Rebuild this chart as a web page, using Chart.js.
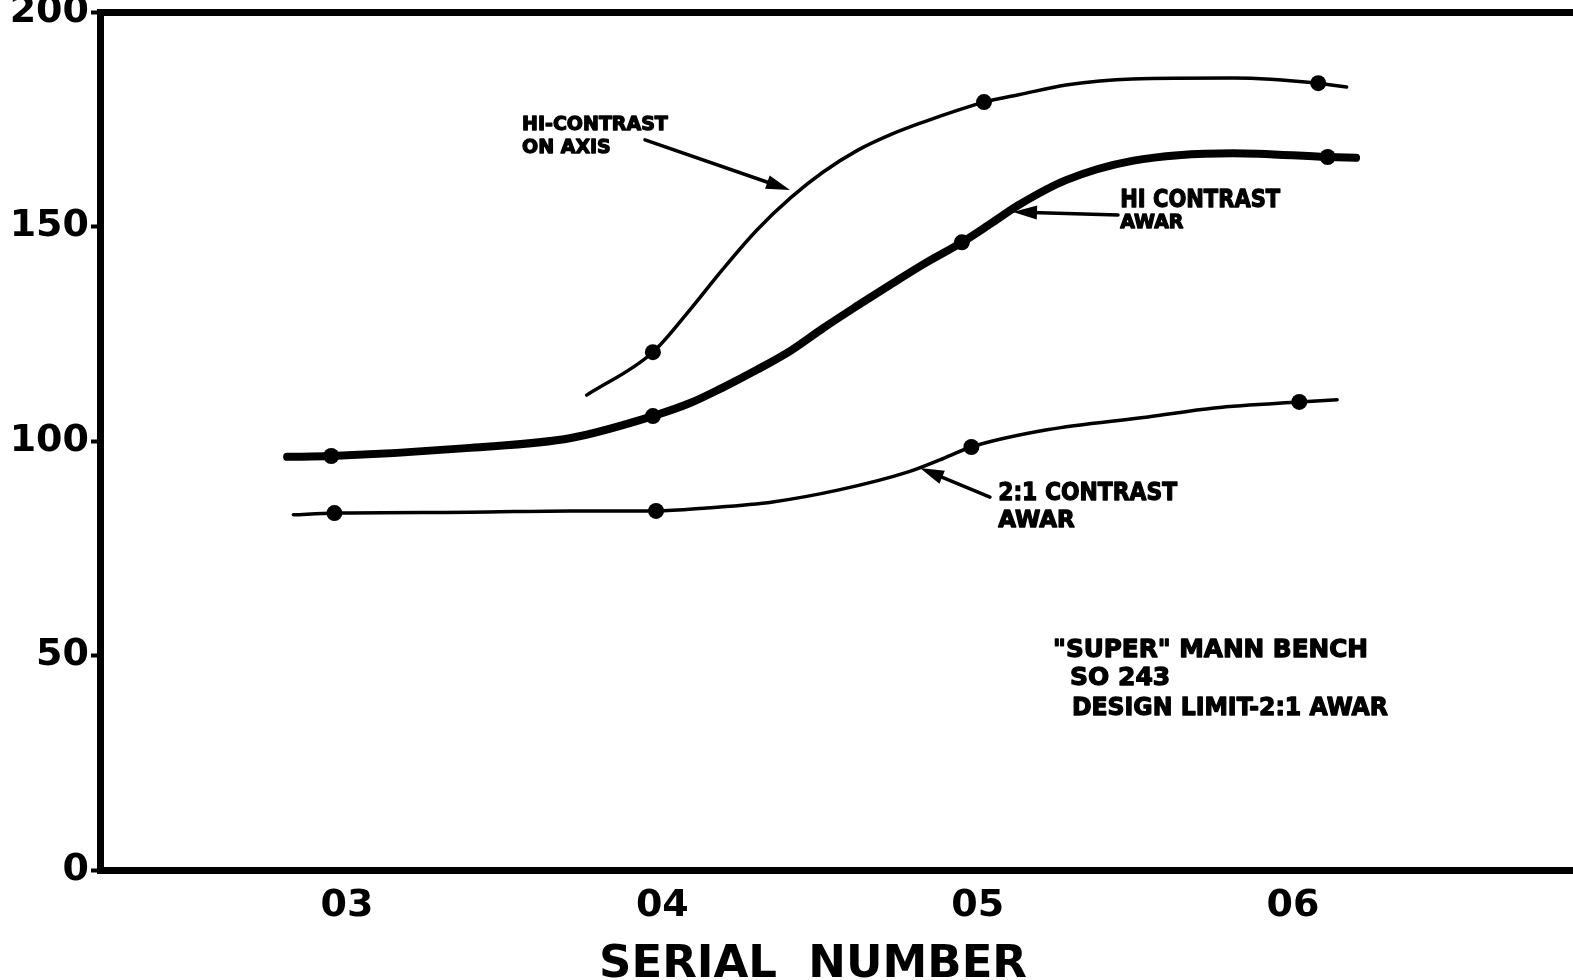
<!DOCTYPE html>
<html>
<head>
<meta charset="utf-8">
<title>Serial number chart</title>
<script src="https://cdn.jsdelivr.net/npm/chart.js@4.4.1/dist/chart.umd.min.js"></script>
<style>
body { margin: 0; background: #fff; }
#wrap { width: 1573px; height: 980px; }
</style>
</head>
<body>
<div id="wrap"><canvas id="serialChart"></canvas></div>
<script>
// serial number axis
const xTickValues = [3, 4, 5, 6];
const xTickLabels = ['03', '04', '05', '06'];

// HI-CONTRAST ON AXIS
const onAxisX = [3.76, 3.97, 4.09, 4.19, 4.30, 4.41, 4.51, 4.62, 4.72, 4.83, 4.94, 5.02, 5.13, 5.28, 5.49, 5.81, 6.08, 6.17];
const onAxisY = [110.7, 120.7, 130.8, 139.9, 149.2, 156.9, 162.7, 167.8, 171.3, 174.4, 177.2, 179.0, 180.7, 183.0, 184.4, 184.6, 183.4, 182.5];
const onAxisDotX = [3.97, 5.02, 6.08];
const onAxisDotY = [120.7, 179.0, 183.4];

// HI CONTRAST AWAR (heavy line)
const hiAwarX = [2.81, 2.95, 3.39, 3.71, 3.97, 4.09, 4.19, 4.30, 4.41, 4.51, 4.62, 4.72, 4.83, 4.95, 5.04, 5.13, 5.28, 5.49, 5.81, 6.11, 6.20];
const hiAwarY = [96.3, 96.5, 98.4, 100.7, 105.8, 108.9, 112.4, 116.6, 121.2, 126.3, 131.6, 136.3, 141.3, 146.3, 150.6, 155.0, 160.8, 165.3, 167.1, 166.2, 166.0];
const hiAwarDotX = [2.95, 3.97, 4.95, 6.11];
const hiAwarDotY = [96.5, 105.8, 146.3, 166.2];

// 2:1 CONTRAST AWAR
const lowAwarX = [2.83, 2.96, 3.39, 3.71, 3.98, 4.14, 4.35, 4.56, 4.78, 4.88, 4.98, 5.22, 5.54, 5.75, 6.02, 6.14];
const lowAwarY = [82.8, 83.2, 83.4, 83.7, 83.7, 84.4, 85.8, 88.6, 92.8, 95.6, 98.6, 102.6, 105.6, 107.7, 109.1, 109.6];
const lowAwarDotX = [2.96, 3.98, 4.98, 6.02];
const lowAwarDotY = [83.2, 83.7, 98.6, 109.1];

// hand lettered notes and pointers, placed in data units
const notes = [
    { text: 'HI-CONTRAST', x: 3.555, y: 172.5, size: 19, width: 160 },
    { text: 'ON AXIS', x: 3.555, y: 167.1, size: 19, width: 101 },
    { text: 'HI CONTRAST', x: 5.452, y: 154.5, size: 25, width: 160 },
    { text: 'AWAR', x: 5.452, y: 149.7, size: 19, width: 67 },
    { text: '2:1 CONTRAST', x: 5.065, y: 86.2, size: 25, width: 179 },
    { text: 'AWAR', x: 5.065, y: 80.0, size: 23, width: 79 },
    { text: '"SUPER" MANN BENCH', x: 5.239, y: 49.7, size: 25, width: 315 },
    { text: 'SO 243', x: 5.293, y: 43.1, size: 25, width: 108 },
    { text: 'DESIGN LIMIT-2:1 AWAR', x: 5.299, y: 36.1, size: 25, width: 316 },
];
const arrows = [
    { x1: 3.945, y1: 170.2, x2: 4.405, y2: 158.5 },
    { x1: 5.445, y1: 152.7, x2: 5.112, y2: 153.4 },
    { x1: 5.039, y1: 86.9, x2: 4.817, y2: 93.7 },
];

const toPoints = (xs, ys) => xs.map((v, i) => ({ x: v, y: ys[i] }));

const notesPlugin = {
    id: 'notes',
    afterDatasetsDraw(chart) {
        const { ctx, scales: { x, y } } = chart;
        ctx.save();
        ctx.fillStyle = '#000';
        ctx.strokeStyle = '#000';
        ctx.textAlign = 'left';
        ctx.textBaseline = 'alphabetic';
        ctx.lineJoin = 'round';
        for (const n of notes) {
            const px = x.getPixelForValue(n.x), py = y.getPixelForValue(n.y);
            ctx.font = 'bold ' + n.size + 'px "DejaVu Sans"';
            ctx.lineWidth = 1.3;
            ctx.fillText(n.text, px, py, n.width);
            ctx.strokeText(n.text, px, py, n.width);
        }
        for (const a of arrows) {
            const x1 = x.getPixelForValue(a.x1), y1 = y.getPixelForValue(a.y1);
            const x2 = x.getPixelForValue(a.x2), y2 = y.getPixelForValue(a.y2);
            const ang = Math.atan2(y2 - y1, x2 - x1);
            const c = Math.cos(ang), s = Math.sin(ang);
            ctx.lineWidth = 3.5;
            ctx.lineCap = 'round';
            ctx.beginPath();
            ctx.moveTo(x1, y1);
            ctx.lineTo(x2 - c * 10, y2 - s * 10);
            ctx.stroke();
            ctx.beginPath();
            ctx.moveTo(x2, y2);
            ctx.lineTo(x2 - c * 24 + s * 7, y2 - s * 24 - c * 7);
            ctx.lineTo(x2 - c * 24 - s * 7, y2 - s * 24 + c * 7);
            ctx.closePath();
            ctx.fill();
        }
        ctx.restore();
    }
};

const lineSet = (pts, w) => ({
    data: pts,
    borderColor: '#000',
    borderWidth: w,
    borderCapStyle: 'round',
    pointRadius: 0,
    cubicInterpolationMode: 'monotone',
    fill: false,
});
const dotSet = (pts, r) => ({
    data: pts,
    showLine: false,
    pointRadius: r,
    pointBackgroundColor: '#000',
    pointBorderWidth: 0,
});

Chart.defaults.font.family = '"DejaVu Sans"';
Chart.defaults.color = '#000';

const xRange = { min: 2.2166, max: 6.888 };
const noSidePad = (scale) => { scale.paddingLeft = 0; scale.paddingRight = 0; };

new Chart(document.getElementById('serialChart'), {
    type: 'line',
    data: {
        datasets: [
            lineSet(toPoints(onAxisX, onAxisY), 3.5),
            dotSet(toPoints(onAxisDotX, onAxisDotY), 8),
            lineSet(toPoints(hiAwarX, hiAwarY), 8),
            dotSet(toPoints(hiAwarDotX, hiAwarDotY), 8),
            lineSet(toPoints(lowAwarX, lowAwarY), 3.5),
            dotSet(toPoints(lowAwarDotX, lowAwarDotY), 8),
        ]
    },
    options: {
        responsive: true,
        maintainAspectRatio: false,
        animation: false,
        layout: { padding: 0, autoPadding: false },
        plugins: {
            legend: { display: false },
            tooltip: { enabled: false },
        },
        scales: {
            x: {
                type: 'linear',
                position: 'bottom',
                min: xRange.min,
                max: xRange.max,
                afterBuildTicks: (scale) => { scale.ticks = xTickValues.map(v => ({ value: v })); },
                afterFit: (scale) => { scale.height = 110; noSidePad(scale); },
                ticks: {
                    callback: (v) => xTickLabels[xTickValues.indexOf(v)],
                    font: { size: 38, weight: 'bold' },
                    padding: 13,
                    maxRotation: 0,
                },
                grid: { display: false, drawTicks: false },
                border: { display: true, width: 7, color: '#000' },
                title: {
                    display: true,
                    // trailing spaces nudge the centred title left, as lettered
                    text: 'SERIAL  NUMBER   ',
                    font: { size: 45, weight: 'bold', lineHeight: 0.65 },
                    padding: 0,
                },
            },
            x2: {
                type: 'linear',
                position: 'top',
                min: xRange.min,
                max: xRange.max,
                afterFit: (scale) => { scale.height = 12; noSidePad(scale); },
                ticks: { display: false },
                grid: { display: false, drawTicks: false },
                border: { display: true, width: 7, color: '#000' },
            },
            y: {
                min: 0,
                max: 200,
                afterFit: (scale) => { scale.width = 100; scale.paddingTop = 0; scale.paddingBottom = 0; },
                ticks: {
                    stepSize: 50,
                    font: { size: 38, weight: 'bold' },
                    padding: 2,
                },
                grid: {
                    display: true,
                    drawOnChartArea: false,
                    drawTicks: true,
                    tickLength: 9,
                    tickWidth: 4,
                    color: '#000',
                },
                border: { display: true, width: 7, color: '#000' },
            },
        }
    },
    plugins: [notesPlugin],
});
</script>
</body>
</html>
